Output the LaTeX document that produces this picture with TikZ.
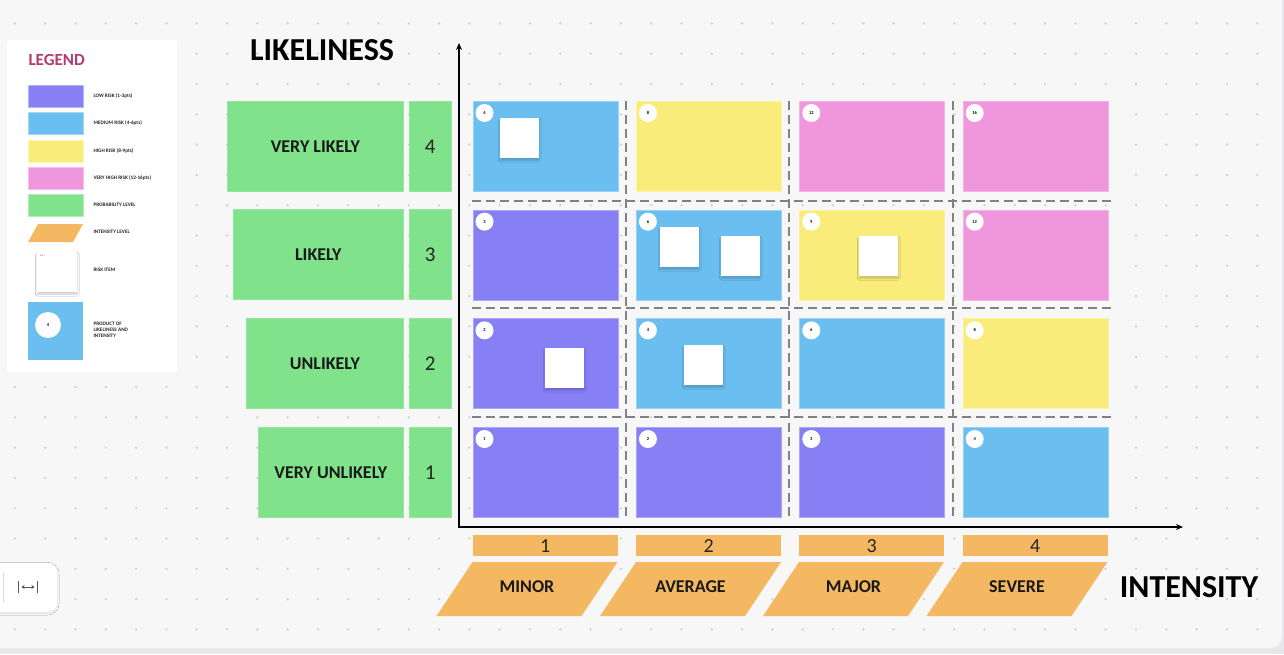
\documentclass[tikz,border=0pt]{standalone}
\usepackage{fontspec}
\setmainfont{Carlito}
\usetikzlibrary{arrows.meta,shadows.blur}
\definecolor{outerbg}{RGB}{232,232,234}
\definecolor{canvasbg}{RGB}{247,247,247}
\definecolor{dotc}{RGB}{210,210,214}
\definecolor{mpurple}{RGB}{135,128,245}
\definecolor{mblue}{RGB}{107,190,240}
\definecolor{myellow}{RGB}{250,236,122}
\definecolor{mpink}{RGB}{240,150,220}
\definecolor{mgreen}{RGB}{128,226,138}
\definecolor{morange}{RGB}{245,184,98}
\definecolor{legtitle}{RGB}{178,60,112}
\definecolor{dashc}{RGB}{130,130,134}
\begin{document}
\begin{tikzpicture}[x=1pt,y=-1pt,
  cellbox/.style={rectangle,anchor=north west,inner sep=0pt,minimum width=145pt,minimum height=90pt,line width=0.8pt},
  numcirc/.style={circle,fill=white,inner sep=0pt,minimum size=18pt,font=\bfseries\fontsize{4.5}{5}\selectfont},
  riskbox/.style={rectangle,anchor=north west,fill=white,inner sep=0pt,minimum width=39pt,minimum height=40pt,
     blur shadow={shadow xshift=0pt,shadow yshift=-2pt,shadow blur steps=6,shadow opacity=20}},
  greenbox/.style={rectangle,anchor=north west,fill=mgreen,draw=mgreen!85!white,inner sep=0pt,minimum height=90pt,line width=0.6pt},
  lbltxt/.style={font=\bfseries\fontsize{18}{18}\selectfont,text=black!90},
  numtxt/.style={font=\fontsize{21}{21}\selectfont,text=black!85},
  orbar/.style={rectangle,anchor=north west,fill=morange,inner sep=0pt,minimum width=145pt,minimum height=21pt,font=\fontsize{20}{20}\selectfont,text=black!85},
  orpara/.style={fill=morange},
  dashln/.style={draw=dashc,line width=1.5pt,dash pattern=on 9pt off 5pt},
  axisln/.style={draw=black,line width=1.5pt},
  legsw/.style={rectangle,anchor=north west,inner sep=0pt,minimum width=55pt,minimum height=22pt},
  legtxt/.style={anchor=west,font=\bfseries\fontsize{5.2}{6}\selectfont,align=left,text=black!85},
  bigtitle/.style={font=\bfseries\fontsize{32}{32}\selectfont,text=black}
]
\useasboundingbox (0,0) rectangle (1284,654);
\fill[outerbg] (0,0) rectangle (1284,654);
\fill[canvasbg,rounded corners=12pt] (-20,-20) rectangle (1282,648);
% dot grid
\foreach \i in {0,...,42}{
  \foreach \j in {0,...,20}{
    \fill[dotc] ({14.9+30.3*\i},{23.4+30.3*\j}) circle (1.3pt);
  }
}
% legend panel
\node[rectangle,anchor=north west,fill=white,minimum width=170pt,minimum height=332pt,inner sep=0pt,rounded corners=2pt] (legend) at (7,40) {};
\node[anchor=west,font=\bfseries\fontsize{17}{17}\selectfont,text=legtitle] (legtitle) at (25,60) {LEGEND};
\node[legsw,fill=mpurple,draw=mpurple!60!white] (lsw1) at (28,85) {};
\node[legsw,fill=mblue,draw=mblue!60!white] (lsw2) at (28,112) {};
\node[legsw,fill=myellow,draw=myellow!60!white] (lsw3) at (28,140) {};
\node[legsw,fill=mpink,draw=mpink!60!white] (lsw4) at (28,167) {};
\node[legsw,fill=mgreen,draw=mgreen!60!white] (lsw5) at (28,194) {};
\fill[orpara] (38,224) -- (83,224) -- (73,242) -- (28,242) -- cycle;
\node[rectangle,anchor=north west,fill=white,inner sep=0pt,minimum width=40pt,minimum height=40pt,
     blur shadow={shadow xshift=0pt,shadow yshift=-2pt,shadow blur steps=6,shadow opacity=20}] (lsw7) at (37,252) {};
\node[anchor=north west,inner sep=0pt,font=\fontsize{2.5}{3}\selectfont,text=black!60] (lsw7t) at (40,255) {AB 1};
\node[rectangle,anchor=north west,fill=mblue,inner sep=0pt,minimum width=55pt,minimum height=58pt] (lsw8) at (28,302) {};
\node[circle,fill=white,inner sep=0pt,minimum size=26pt,font=\bfseries\fontsize{4.5}{5}\selectfont] (lsw8c) at (48,325) {4};
\node[legtxt] (lt1) at (90,96) {LOW RISK (1-3pts)};
\node[legtxt] (lt2) at (90,123) {MEDIUM RISK (4-6pts)};
\node[legtxt] (lt3) at (90,151) {HIGH RISK (8-9pts)};
\node[legtxt] (lt4) at (90,178) {VERY HIGH RISK (12-16pts)};
\node[legtxt] (lt5) at (90,205) {PROBABILITY LEVEL};
\node[legtxt] (lt6) at (90,232) {INTENSITY LEVEL};
\node[legtxt] (lt7) at (90,270) {RISK ITEM};
\node[legtxt] (lt8) at (90,330) {PRODUCT OF\\LIKELINESS AND\\INTENSITY};
% titles
\node[bigtitle] (likeliness) at (322,50) {LIKELINESS};
\node[bigtitle] (intensity) at (1189,587) {INTENSITY};
% green labels
\node[greenbox,minimum width=176pt] (l4) at (227,101) {};
\node[lbltxt] at (l4.center) {VERY LIKELY};
\node[greenbox,minimum width=170pt] (l3) at (233,209) {};
\node[lbltxt] at (l3.center) {LIKELY};
\node[greenbox,minimum width=157pt] (l2) at (246,318) {};
\node[lbltxt] at (l2.center) {UNLIKELY};
\node[greenbox,minimum width=145pt] (l1) at (258,427) {};
\node[lbltxt] at (l1.center) {VERY UNLIKELY};
\foreach \r/\t in {4/101,3/209,2/318,1/427}{
  \node[greenbox,minimum width=42pt] (ln\r) at (409,\t) {};
  \node[numtxt] at (ln\r.center) {\r};
}
% dashed separators
\coordinate (h1a) at (472,201); \coordinate (h1b) at (1111,201);
\coordinate (h2a) at (472,308); \coordinate (h2b) at (1111,308);
\coordinate (h3a) at (472,417); \coordinate (h3b) at (1111,417);
\coordinate (v1a) at (626,101); \coordinate (v1b) at (626,517);
\coordinate (v2a) at (789,101); \coordinate (v2b) at (789,517);
\coordinate (v3a) at (953,101); \coordinate (v3b) at (953,517);
\draw[dashln] (h1a) -- (h1b);
\draw[dashln] (h2a) -- (h2b);
\draw[dashln] (h3a) -- (h3b);
\draw[dashln] (v1a) -- (v1b);
\draw[dashln] (v2a) -- (v2b);
\draw[dashln] (v3a) -- (v3b);
% cells
\foreach \r/\c/\col in {4/1/mblue,4/2/myellow,4/3/mpink,4/4/mpink,
                        3/1/mpurple,3/2/mblue,3/3/myellow,3/4/mpink,
                        2/1/mpurple,2/2/mblue,2/3/mblue,2/4/myellow,
                        1/1/mpurple,1/2/mpurple,1/3/mpurple,1/4/mblue}{
  \pgfmathsetmacro\tp{101+(4-\r)*108.67}
  \pgfmathsetmacro\lf{472.5+(\c-1)*163.4}
  \pgfmathtruncatemacro\nn{\r*\c}
  \node[cellbox,fill=\col,draw=\col!70!white] (cell-\r-\c) at (\lf,\tp) {};
  \node[numcirc] (num-\r-\c) at ([shift={(12,12)}]cell-\r-\c.north west) {\nn};
}
% risk items
\node[riskbox] (risk1) at (500,118) {};
\node[riskbox] (risk2) at (660,227) {};
\node[riskbox] (risk3) at (721,236) {};
\node[riskbox] (risk4) at (859,236) {};
\node[riskbox] (risk5) at (545,348) {};
\node[riskbox] (risk6) at (684,345) {};
% axes
\coordinate (origin) at (459,527);
\coordinate (ytip) at (459,43);
\coordinate (xtip) at (1183,527);
\draw[axisln,{Stealth[length=7pt,width=6pt]}-{Stealth[length=7pt,width=6pt]}] (ytip) -- (origin) -- (xtip);
% intensity bars
\foreach \c/\lf/\name in {1/472.5/MINOR,2/636/AVERAGE,3/799/MAJOR,4/962.5/SEVERE}{
  \node[orbar] (bar\c) at (\lf,535) {\c};
  \fill[orpara] (\lf,562) -- ({\lf+145},562) -- ({\lf+109},616) -- ({\lf-36},616) -- cycle;
  \node[lbltxt] (int\c) at ({\lf+54.5},587) {\name};
}
% bottom-left widget
\node[rectangle,anchor=north west,fill=white,rounded corners=10pt,inner sep=0pt,minimum width=70pt,minimum height=49pt,
     blur shadow={shadow xshift=0pt,shadow yshift=-1pt,shadow blur steps=6,shadow opacity=12}] (widget) at (-13,563) {};
\coordinate (wl1) at (3,573); \coordinate (wl2) at (3,602);
\draw[black!15,line width=0.6pt] (wl1) -- (wl2);
\coordinate (ib1a) at (18.5,581); \coordinate (ib1b) at (18.5,593);
\coordinate (ib2a) at (37.5,581); \coordinate (ib2b) at (37.5,593);
\coordinate (iaa) at (21.5,587); \coordinate (iab) at (34.5,587);
\draw[black!65,line width=1.3pt] (ib1a) -- (ib1b);
\draw[black!65,line width=1.3pt] (ib2a) -- (ib2b);
\draw[black!65,line width=1pt,{Stealth[length=3pt,width=4pt]}-{Stealth[length=3pt,width=4pt]}] (iaa) -- (iab);
\end{tikzpicture}
\end{document}
